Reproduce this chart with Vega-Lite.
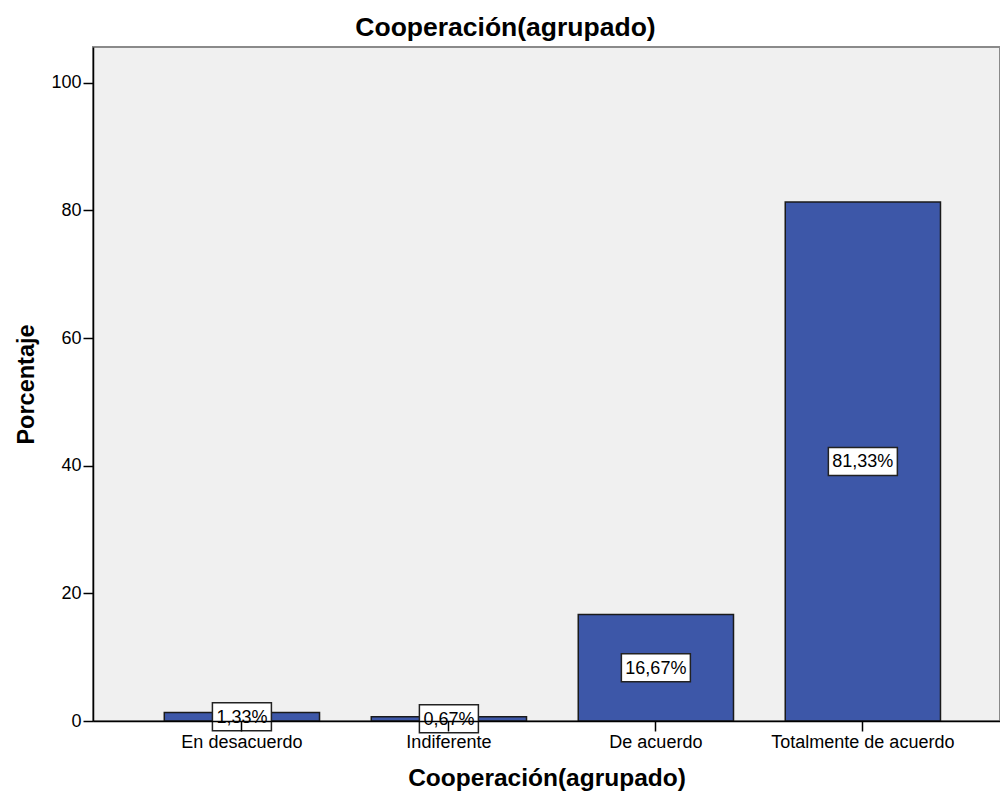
{
  "$schema": "https://vega.github.io/schema/vega-lite/v6.json",
  "autosize": {"type": "none"},
  "padding": {"left": 93, "top": 47, "right": 0, "bottom": 75},
  "width": 907,
  "height": 674,
  "background": "#ffffff",
  "config": {
    "font": "Liberation Sans",
    "view": {"fill": "#f0f0f0", "stroke": "#8a8a8a", "strokeWidth": 2},
    "axis": {"grid": false, "domainColor": "#000000", "tickColor": "#000000", "labelColor": "#000000", "titleColor": "#000000", "labelFont": "Liberation Sans", "titleFont": "Liberation Sans"}
  },
  "title": {
    "text": "Cooperación(agrupado)",
    "font": "Liberation Sans",
    "fontSize": 26.5,
    "fontWeight": "bold",
    "color": "#000000",
    "anchor": "middle",
    "baseline": "alphabetic",
    "offset": 10,
    "dx": -41,
    "dy": 25
  },
  "data": {
    "values": [
      {"categoria": "En desacuerdo", "porcentaje": 1.33, "label": "1,33%"},
      {"categoria": "Indiferente", "porcentaje": 0.67, "label": "0,67%"},
      {"categoria": "De acuerdo", "porcentaje": 16.67, "label": "16,67%"},
      {"categoria": "Totalmente de acuerdo", "porcentaje": 81.33, "label": "81,33%"}
    ]
  },
  "encoding": {
    "x": {
      "field": "categoria",
      "type": "nominal",
      "sort": ["En desacuerdo", "Indiferente", "De acuerdo", "Totalmente de acuerdo"],
      "scale": {"paddingInner": 0.25, "paddingOuter": 0.316, "align": 0.545},
      "axis": {
        "title": "Cooperación(agrupado)",
        "labelAngle": 0,
        "labelFontSize": 18,
        "labelPadding": 2,
        "labelLimit": 0,
        "tickSize": 10,
        "tickWidth": 1.5,
        "domainWidth": 1.5,
        "titleFontSize": 24.5,
        "titleFontWeight": "bold",
        "titlePadding": 15,
        "zindex": 1
      }
    }
  },
  "layer": [
    {
      "mark": {"type": "bar", "color": "#3d57a8", "stroke": "#1a1a1a", "strokeWidth": 1.5},
      "encoding": {
        "y": {
          "field": "porcentaje",
          "type": "quantitative",
          "scale": {"domain": [0, 105.6], "nice": false},
          "axis": {
            "title": "Porcentaje",
            "values": [0, 20, 40, 60, 80, 100],
            "labelFontSize": 18,
            "labelPadding": 2,
            "tickSize": 10,
            "tickWidth": 1.5,
            "domainWidth": 1.5,
            "titleFontSize": 23.5,
            "titleFontWeight": "bold",
            "titlePadding": 12
          }
        }
      }
    },
    {
      "encoding": {
        "y": {
          "field": "porcentaje",
          "type": "quantitative",
          "scale": {"domain": [0, 211.2], "nice": false},
          "axis": null
        }
      },
      "layer": [
        {
          "transform": [{"filter": "length(datum.label) < 6"}],
          "mark": {"type": "point", "filled": true, "fill": "#ffffff", "stroke": "#222222", "strokeWidth": 1.5, "opacity": 1, "size": 3481, "shape": "M-1,-0.475H1V0.475H-1Z"}
        },
        {
          "transform": [{"filter": "length(datum.label) >= 6"}],
          "mark": {"type": "point", "filled": true, "fill": "#ffffff", "stroke": "#222222", "strokeWidth": 1.5, "opacity": 1, "size": 4761, "shape": "M-1,-0.406H1V0.406H-1Z"}
        },
        {
          "mark": {"type": "text", "font": "Liberation Sans", "fontSize": 18, "color": "#000000", "align": "center", "baseline": "middle", "dy": 1},
          "encoding": {"text": {"field": "label", "type": "nominal"}}
        }
      ]
    }
  ],
  "resolve": {"scale": {"y": "independent"}}
}
